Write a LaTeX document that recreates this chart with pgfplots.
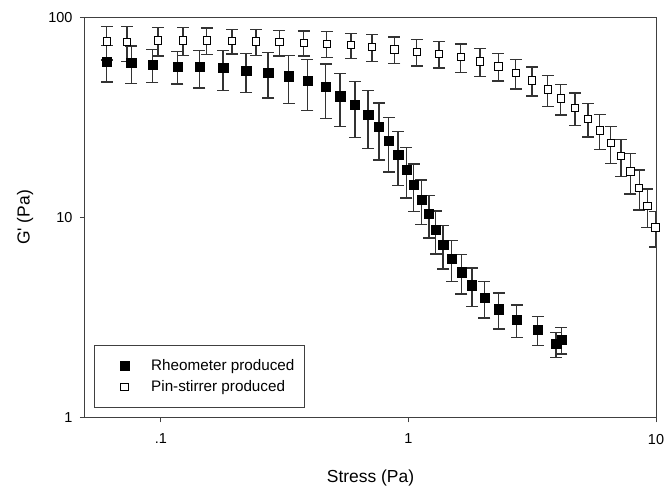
\documentclass[border=0pt]{standalone}
\usepackage{fontspec}
\setmainfont{Liberation Sans}
\usepackage{pgfplots}
\pgfplotsset{compat=1.18}
\usepackage{pgfplotstable}

% G' of the two emulsions: x, G', sd
\pgfplotstableread{
x y e
0.0605 59.9 12.3
0.0759 59.4 12.7
0.0925 58.1 10.9
0.1167 57.0 10.5
0.1432 56.5 12.1
0.1785 55.9 12.6
0.2211 54.0 11.9
0.2713 53.2 13.6
0.3289 50.9 13.8
0.3908 48.1 13.7
0.4638 44.9 13.7
0.5299 40.4 12.0
0.609 36.6 11.4
0.6875 32.6 10.4
0.7613 28.4 9.0
0.8333 24.2 7.3
0.9087 20.7 6.2
0.9816 17.4 4.9
1.051 14.6 3.9
1.128 12.3 3.1
1.212 10.4 2.5
1.290 8.66 2.1
1.381 7.32 1.8
1.497 6.23 1.45
1.637 5.33 1.18
1.808 4.59 1.0
2.028 3.97 0.83
2.318 3.48 0.71
2.741 3.08 0.57
3.331 2.75 0.46
3.95 2.33 0.34
4.15 2.45 0.37
}\rheo

\pgfplotstableread{
x y e
0.0605 75.9 14.6
0.0731 75.3 15.2
0.0973 76.8 12.6
0.1230 76.8 12.1
0.1534 76.8 11.7
0.194 76.5 10.9
0.2426 75.9 11.2
0.3013 75.3 11.1
0.378 74.8 10.7
0.468 73.9 10.9
0.586 72.75 10.5
0.7135 71.1 10.9
0.878 69.3 10.5
1.081 67.4 10.2
1.330 65.9 10.0
1.628 63.4 10.2
1.948 60.3 9.5
2.309 57.0 8.9
2.716 52.8 8.9
3.160 48.5 8.0
3.656 43.7 7.7
4.126 39.4 6.9
4.713 35.4 6.5
5.317 31.2 5.9
5.93 27.3 5.4
6.57 23.6 5.0
7.23 20.3 4.3
7.88 17.0 3.9
8.55 14.1 3.2
9.23 11.4 2.5
9.94 8.93 1.8
}\pin

\begin{document}
\begin{tikzpicture}
\useasboundingbox (0,0) rectangle (665bp,486bp);
\begin{axis}[
    at={(85bp,68.5bp)}, anchor=south west,
    scale only axis,
    width=571bp, height=400bp,
    xmode=log, ymode=log,
    xmin=0.0494, xmax=10,
    ymin=1, ymax=100,
    xtick={0.1,1,10}, xticklabels={.1,1,10},
    ytick={1,10,100}, yticklabels={1,10,100},
    minor tick num=0,
    xminorticks=false, yminorticks=false,
    tick align=outside,
    xtick pos=bottom, ytick pos=left,
    major tick length=5bp,
    axis line style={black!75, line width=1bp},
    tick style={black!75, line width=1bp},
    tick label style={font=\fontsize{14.5}{17}\selectfont},
    xticklabel style={yshift=-8bp},
    yticklabel style={xshift=-4bp},
    /pgf/number format/assume math mode=true,
    label style={font=\fontsize{17.5}{21}\selectfont},
    xlabel={Stress (Pa)},
    ylabel={G\textquotesingle{} (Pa)},
    xlabel style={at={(axis description cs:0.5,-0.15)}, anchor=center},
    ylabel style={at={(axis description cs:-0.105,0.5)}, anchor=center},
    legend cell align=left,
    legend image code/.code={
        \path (0bp,0bp) (46bp,0bp);
        \draw[#1,only marks] plot coordinates {(21.5bp,0bp)};
    },
    legend style={
        at={(rel axis cs:0.0158,0.025)}, anchor=south west,
        draw=black!75, line width=0.8bp,
        font=\fontsize{15.3}{18}\selectfont,
        inner xsep=8bp, inner ysep=12bp,
        row sep=4.5bp,
    },
    error bars/error bar style={black!80, line width=1.3bp},
    error bars/error mark options={black!80, line width=1.3bp, mark size=6bp, rotate=90},
]
\addplot[only marks, mark=square*, mark size=4.6bp,
         mark options={fill=black, draw=black, line width=0.4bp},
         error bars/.cd, y dir=both, y explicit]
    table[x=x, y=y, y error=e] {\rheo};
\addlegendentry{Rheometer produced}
\addplot[only marks, mark=square*, mark size=3.7bp,
         mark options={fill=white, draw=black, line width=0.9bp},
         error bars/.cd, y dir=both, y explicit]
    table[x=x, y=y, y error=e] {\pin};
\addlegendentry{Pin-stirrer produced}
\end{axis}
\end{tikzpicture}
\end{document}
